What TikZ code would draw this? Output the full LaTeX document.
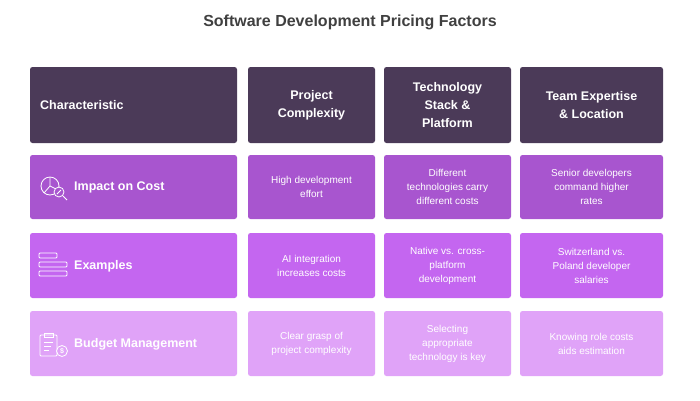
\documentclass[tikz,border=0pt]{standalone}
\usepackage{fontspec}
\setmainfont{Liberation Sans}
\definecolor{hdr}{HTML}{4B3A58}
\definecolor{rA}{HTML}{A855CF}
\definecolor{rB}{HTML}{C466F0}
\definecolor{rC}{HTML}{E0A3F8}
\definecolor{ttl}{HTML}{404040}
\tikzset{cell/.style={rounded corners=2.5pt,inner sep=0pt,text=white,align=center,font=\fontsize{10}{14}\selectfont},
 hcell/.style={cell,font=\bfseries\fontsize{12.5}{18}\selectfont},
 ic/.style={draw=white,line width=0.8pt}}
\begin{document}
\begin{tikzpicture}[x=1pt,y=-1pt]
\useasboundingbox (0,0) rectangle (700,400);
\node[font=\bfseries\fontsize{16}{20}\selectfont,text=ttl] (title) at (350,22) {Software Development Pricing Factors};
% row 1
\fill[hdr,rounded corners=2.5pt] (30,67) rectangle (237,143);
\node[hcell,anchor=west] (h1) at (40,105) {Characteristic};
\fill[hdr,rounded corners=2.5pt] (248,67) rectangle (375,143);
\node[hcell] (h2) at (311.5,105) {Project\\Complexity};
\fill[hdr,rounded corners=2.5pt] (384,67) rectangle (511,143);
\node[hcell] (h3) at (447.5,105) {Technology\\Stack \&\\Platform};
\fill[hdr,rounded corners=2.5pt] (520,67) rectangle (663,143);
\node[hcell] (h4) at (591.5,105) {Team Expertise\\\& Location};
% row 2
\foreach \a/\b in {30/237,248/375,384/511,520/663}{\fill[rA,rounded corners=2.5pt] (\a,155) rectangle (\b,219);}
\node[hcell,anchor=west] (r2) at (74,187) {Impact on Cost};
\node[cell] (c22) at (311.5,187) {High development\\effort};
\node[cell] (c23) at (447.5,187) {Different\\technologies carry\\different costs};
\node[cell] (c24) at (591.5,187) {Senior developers\\command higher\\rates};
% row 3
\foreach \a/\b in {30/237,248/375,384/511,520/663}{\fill[rB,rounded corners=2.5pt] (\a,233) rectangle (\b,298);}
\node[hcell,anchor=west] (r3) at (74,266) {Examples};
\node[cell] (c32) at (311.5,266) {AI integration\\increases costs};
\node[cell] (c33) at (447.5,266) {Native vs. cross-\\platform\\development};
\node[cell] (c34) at (591.5,266) {Switzerland vs.\\Poland developer\\salaries};
% row 4
\foreach \a/\b in {30/237,248/375,384/511,520/663}{\fill[rC,rounded corners=2.5pt] (\a,311) rectangle (\b,376);}
\node[hcell,anchor=west] (r4) at (74,344) {Budget Management};
\node[cell] (c42) at (311.5,344) {Clear grasp of\\project complexity};
\node[cell] (c43) at (447.5,344) {Selecting\\appropriate\\technology is key};
\node[cell] (c44) at (591.5,344) {Knowing role costs\\aids estimation};
% icons
\draw[ic] (50,186) circle (9);
\draw[ic] (50,177) -- (50,186) -- (58,190) (50,186) -- (44,193);
\draw[ic,fill=rA] (59,192) circle (5);
\draw[ic] (63,196) -- (67,200);
\draw[ic] (57,194) -- (61,190);
\draw[ic,rounded corners=1pt] (39,253) rectangle (57,258);
\draw[ic,rounded corners=1pt] (39,262) rectangle (67,267);
\draw[ic,rounded corners=1pt] (39,271) rectangle (67,276);
\draw[ic,rounded corners=1pt] (40,335) rectangle (57,356);
\draw[ic] (44,333) rectangle (53,337);
\draw[ic] (44,342) -- (53,342) (44,346) -- (51,346) (44,350) -- (49,350);
\draw[ic,fill=rC] (62,351) circle (5.5);
\node[text=white,font=\bfseries\fontsize{7}{7}\selectfont] (dol) at (62,351) {\$};
\end{tikzpicture}
\end{document}
